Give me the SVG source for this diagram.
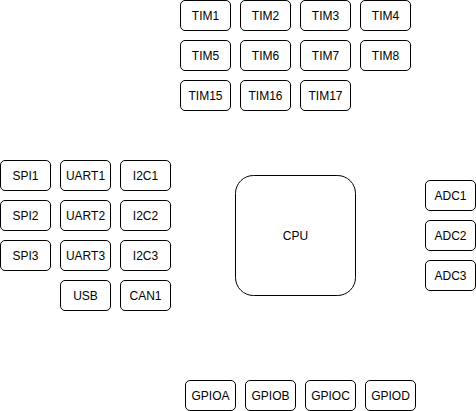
<svg xmlns="http://www.w3.org/2000/svg" width="476" height="411" viewBox="0 0 476 411">
<style>
.b{fill:#fff;stroke:#000;stroke-width:1}
text{font-family:"Liberation Sans",Arial,sans-serif;font-size:12px;fill:#000;text-anchor:middle;dominant-baseline:central}
</style>
<rect width="476" height="411" fill="#fff"/>
<g id="connectors"></g>
<g id="TIM1"><rect class="b" x="180.5" y="0.5" width="50" height="30" rx="4.5"/><text x="205.5" y="15.5">TIM1</text></g>
<g id="TIM2"><rect class="b" x="240.5" y="0.5" width="50" height="30" rx="4.5"/><text x="265.5" y="15.5">TIM2</text></g>
<g id="TIM3"><rect class="b" x="300.5" y="0.5" width="50" height="30" rx="4.5"/><text x="325.5" y="15.5">TIM3</text></g>
<g id="TIM4"><rect class="b" x="360.5" y="0.5" width="50" height="30" rx="4.5"/><text x="385.5" y="15.5">TIM4</text></g>
<g id="TIM5"><rect class="b" x="180.5" y="40.5" width="50" height="30" rx="4.5"/><text x="205.5" y="55.5">TIM5</text></g>
<g id="TIM6"><rect class="b" x="240.5" y="40.5" width="50" height="30" rx="4.5"/><text x="265.5" y="55.5">TIM6</text></g>
<g id="TIM7"><rect class="b" x="300.5" y="40.5" width="50" height="30" rx="4.5"/><text x="325.5" y="55.5">TIM7</text></g>
<g id="TIM8"><rect class="b" x="360.5" y="40.5" width="50" height="30" rx="4.5"/><text x="385.5" y="55.5">TIM8</text></g>
<g id="TIM15"><rect class="b" x="180.5" y="80.5" width="50" height="30" rx="4.5"/><text x="205.5" y="95.5">TIM15</text></g>
<g id="TIM16"><rect class="b" x="240.5" y="80.5" width="50" height="30" rx="4.5"/><text x="265.5" y="95.5">TIM16</text></g>
<g id="TIM17"><rect class="b" x="300.5" y="80.5" width="50" height="30" rx="4.5"/><text x="325.5" y="95.5">TIM17</text></g>
<g id="SPI1"><rect class="b" x="0.5" y="160.5" width="50" height="30" rx="4.5"/><text x="25.5" y="175.5">SPI1</text></g>
<g id="SPI2"><rect class="b" x="0.5" y="200.5" width="50" height="30" rx="4.5"/><text x="25.5" y="215.5">SPI2</text></g>
<g id="SPI3"><rect class="b" x="0.5" y="240.5" width="50" height="30" rx="4.5"/><text x="25.5" y="255.5">SPI3</text></g>
<g id="UART1"><rect class="b" x="60.5" y="160.5" width="50" height="30" rx="4.5"/><text x="85.5" y="175.5">UART1</text></g>
<g id="UART2"><rect class="b" x="60.5" y="200.5" width="50" height="30" rx="4.5"/><text x="85.5" y="215.5">UART2</text></g>
<g id="UART3"><rect class="b" x="60.5" y="240.5" width="50" height="30" rx="4.5"/><text x="85.5" y="255.5">UART3</text></g>
<g id="USB"><rect class="b" x="60.5" y="280.5" width="50" height="30" rx="4.5"/><text x="85.5" y="295.5">USB</text></g>
<g id="I2C1"><rect class="b" x="120.5" y="160.5" width="50" height="30" rx="4.5"/><text x="145.5" y="175.5">I2C1</text></g>
<g id="I2C2"><rect class="b" x="120.5" y="200.5" width="50" height="30" rx="4.5"/><text x="145.5" y="215.5">I2C2</text></g>
<g id="I2C3"><rect class="b" x="120.5" y="240.5" width="50" height="30" rx="4.5"/><text x="145.5" y="255.5">I2C3</text></g>
<g id="CAN1"><rect class="b" x="120.5" y="280.5" width="50" height="30" rx="4.5"/><text x="145.5" y="295.5">CAN1</text></g>
<g id="CPU"><rect class="b" x="235.5" y="175.5" width="120" height="120" rx="18"/><text x="295.5" y="235.5">CPU</text></g>
<g id="ADC1"><rect class="b" x="425.5" y="180.5" width="50" height="30" rx="4.5"/><text x="450.5" y="195.5">ADC1</text></g>
<g id="ADC2"><rect class="b" x="425.5" y="220.5" width="50" height="30" rx="4.5"/><text x="450.5" y="235.5">ADC2</text></g>
<g id="ADC3"><rect class="b" x="425.5" y="260.5" width="50" height="30" rx="4.5"/><text x="450.5" y="275.5">ADC3</text></g>
<g id="GPIOA"><rect class="b" x="185.5" y="380.5" width="50" height="30" rx="4.5"/><text x="210.5" y="395.5">GPIOA</text></g>
<g id="GPIOB"><rect class="b" x="245.5" y="380.5" width="50" height="30" rx="4.5"/><text x="270.5" y="395.5">GPIOB</text></g>
<g id="GPIOC"><rect class="b" x="305.5" y="380.5" width="50" height="30" rx="4.5"/><text x="330.5" y="395.5">GPIOC</text></g>
<g id="GPIOD"><rect class="b" x="365.5" y="380.5" width="50" height="30" rx="4.5"/><text x="390.5" y="395.5">GPIOD</text></g>
</svg>
